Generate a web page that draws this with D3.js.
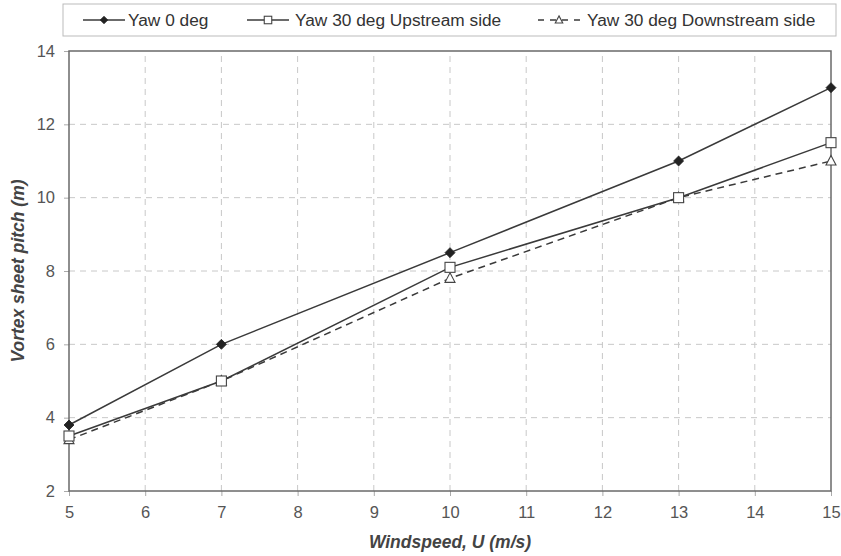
<!DOCTYPE html>
<html><head><meta charset="utf-8">
<script src="https://cdn.jsdelivr.net/npm/d3@7"></script>
<style>body{margin:0;background:#fff;}svg{display:block;font-family:"Liberation Sans",Arial,sans-serif;}</style>
</head><body>
<svg id="c" width="841" height="556"></svg>
<script>
const windspeed = [5, 7, 10, 13, 15];
const yaw0 = [3.8, 6.0, 8.5, 11.0, 13.0];
const yaw30Up = [3.5, 5.0, 8.1, 10.0, 11.5];
const yaw30Down = [3.4, 5.0, 7.8, 10.0, 11.0];
const seriesNames = ["Yaw 0 deg", "Yaw 30 deg Upstream side", "Yaw 30 deg Downstream side"];
const xTicks = [5,6,7,8,9,10,11,12,13,14,15];
const yTicks = [2,4,6,8,10,12,14];

const svg = d3.select("#c");
const m = {l:69, r:10, t:51, b:65};
const W = 841, H = 556;
const x = d3.scaleLinear().domain([5,15]).range([m.l, W - m.r]);
const y = d3.scaleLinear().domain([2,14]).range([H - m.b, m.t]);
const ink = "#3a3a3a", grid = "#c8c8c8", txt = "#555";

// grid
svg.append("g").selectAll("line").data(xTicks.slice(1,-1)).join("line")
  .attr("x1", d=>x(d)).attr("x2", d=>x(d)).attr("y1", y(2)).attr("y2", y(14))
  .attr("stroke", grid).attr("stroke-dasharray","6,5").attr("stroke-width",1);
svg.append("g").selectAll("line").data(yTicks.slice(1,-1)).join("line")
  .attr("x1", x(5)).attr("x2", x(15)).attr("y1", d=>y(d)).attr("y2", d=>y(d))
  .attr("stroke", grid).attr("stroke-dasharray","6,5").attr("stroke-width",1);

// axes
const xa = svg.append("g").attr("transform",`translate(0,${y(2)})`)
  .call(d3.axisBottom(x).tickValues(xTicks).tickSize(5).tickPadding(10).tickFormat(d3.format("d")));
const ya = svg.append("g").attr("transform",`translate(${x(5)},0)`)
  .call(d3.axisLeft(y).tickValues(yTicks).tickSize(5).tickPadding(9).tickFormat(d3.format("d")));
[xa, ya].forEach(a => {
  a.select(".domain").remove();
  a.selectAll("line").attr("stroke", "#aaa");
  a.selectAll("text").attr("fill", txt).attr("font-size", 16.5).attr("font-family","Liberation Sans, Arial, sans-serif");
});
// border
svg.append("rect").attr("x", x(5)).attr("y", y(14)).attr("width", x(15)-x(5)).attr("height", y(2)-y(14))
  .attr("fill","none").attr("stroke", "#6a6a6a").attr("stroke-width",1.5);

// axis titles
svg.append("text").attr("x", (x(5)+x(15))/2).attr("y", 548).attr("text-anchor","middle")
  .attr("font-size",17.5).attr("font-weight","bold").attr("font-style","italic").attr("fill","#444")
  .text("Windspeed, U (m/s)");
svg.append("text").attr("transform",`translate(24,${(y(2)+y(14))/2}) rotate(-90)`).attr("text-anchor","middle")
  .attr("font-size",17.5).attr("font-weight","bold").attr("font-style","italic").attr("fill","#444")
  .text("Vortex sheet pitch (m)");

const line = d3.line().x(d=>x(d[0])).y(d=>y(d[1]));
const series = [
  {vals: yaw0, dash: null, marker: "diamond"},
  {vals: yaw30Up, dash: null, marker: "square"},
  {vals: yaw30Down, dash: "7,5", marker: "triangle"}
];
function drawMarker(g, type, cx, cy, k = 1) {
  if (type === "diamond") {
    g.append("path").attr("d", `M${cx},${cy-5*k}L${cx+5*k},${cy}L${cx},${cy+5*k}L${cx-5*k},${cy}Z`)
      .attr("fill","#222").attr("stroke","#222").attr("stroke-width",0.8);
  } else if (type === "square") {
    g.append("rect").attr("x", cx-5*k).attr("y", cy-5*k).attr("width",10*k).attr("height",10*k)
      .attr("fill","#fff").attr("stroke","#444").attr("stroke-width",1.1);
  } else {
    g.append("path").attr("d", `M${cx},${cy-5.5*k}L${cx+5*k},${cy+4*k}L${cx-5*k},${cy+4*k}Z`)
      .attr("fill","#fff").attr("stroke","#444").attr("stroke-width",1.1);
  }
}
series.slice().reverse().forEach(s => {
  const pts = windspeed.map((w,i)=>[w, s.vals[i]]);
  svg.append("path").datum(pts).attr("d", line).attr("fill","none").attr("stroke", ink)
    .attr("stroke-width",1.5).attr("stroke-dasharray", s.dash);
  const g = svg.append("g");
  pts.forEach(p => drawMarker(g, s.marker, x(p[0]), y(p[1])));
});

// legend
const lg = svg.append("g");
lg.append("rect").attr("x",63).attr("y",4).attr("width",773).attr("height",32)
  .attr("fill","#fff").attr("stroke","#bbb").attr("stroke-width",1);
const legItems = [{x0:83, x1:125, tx:128}, {x0:247, x1:289, tx:295}, {x0:538, x1:580, tx:587}];
series.forEach((s,i) => {
  const it = legItems[i], cy = 20, cx = (it.x0 + it.x1)/2;
  lg.append("line").attr("x1", it.x0).attr("x2", it.x1).attr("y1", cy).attr("y2", cy)
    .attr("stroke", ink).attr("stroke-width",1.5).attr("stroke-dasharray", s.dash ? "6,6" : null);
  drawMarker(lg, s.marker, cx, cy, 0.75);
  lg.append("text").attr("x", it.tx).attr("y", cy+6).attr("font-size",17.3).attr("fill","#333")
    .text(seriesNames[i]);
});
</script>
</body></html>
